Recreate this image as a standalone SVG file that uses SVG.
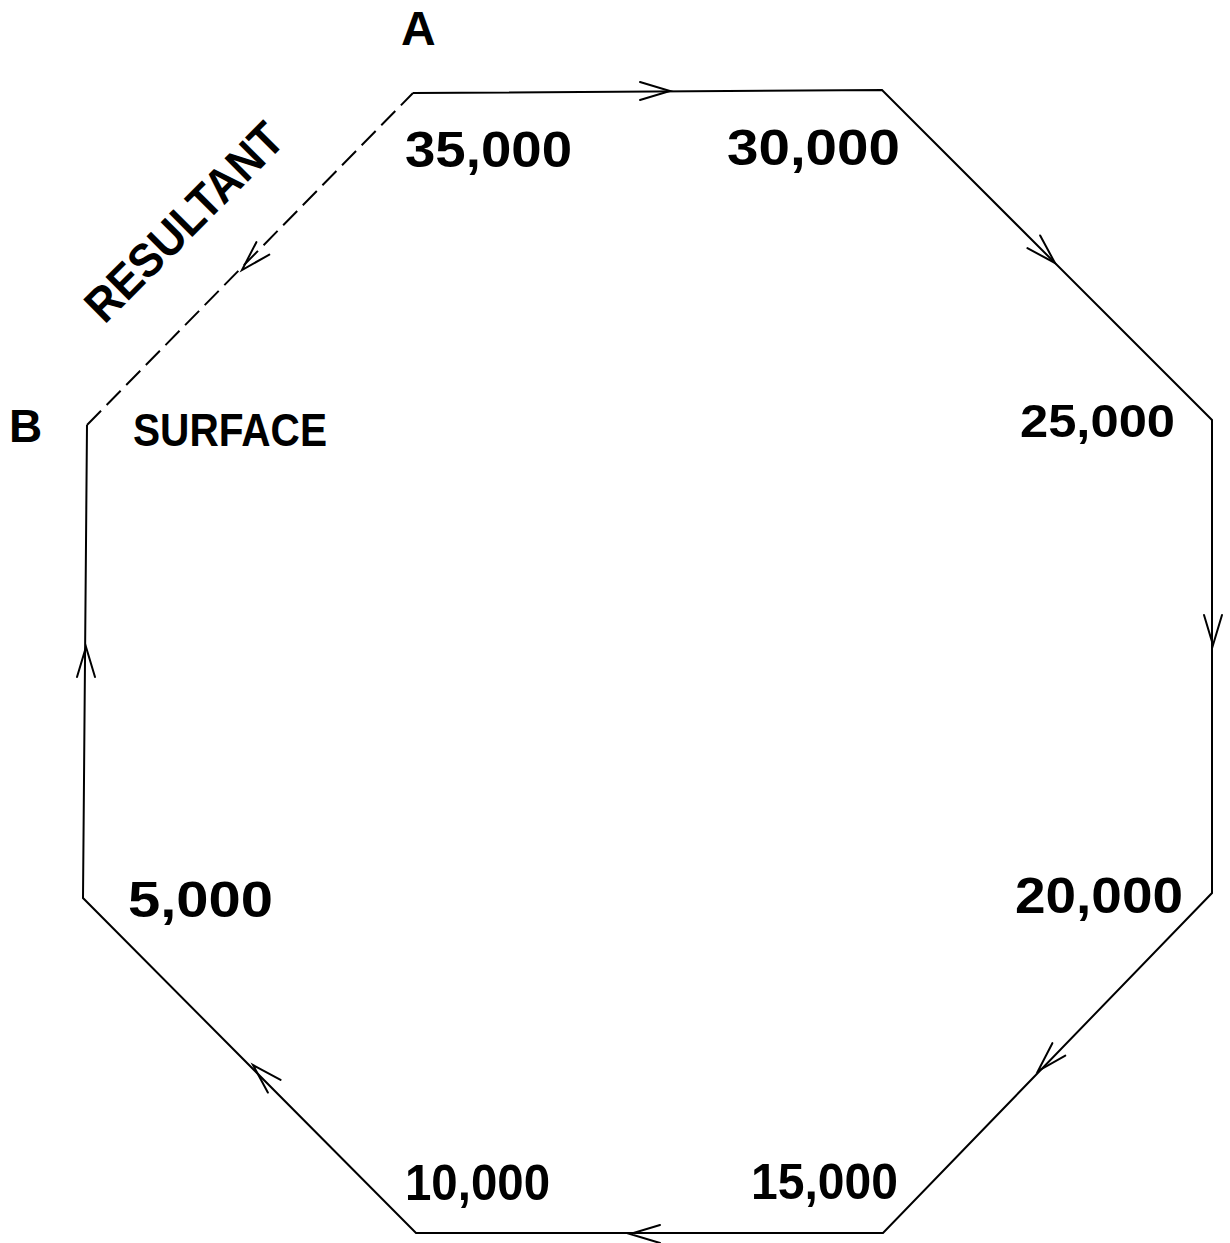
<svg xmlns="http://www.w3.org/2000/svg" width="1230" height="1243" viewBox="0 0 1230 1243">
<style>
.edge{fill:none;stroke:#000;stroke-width:2;stroke-linejoin:miter}
.dash{fill:none;stroke:#000;stroke-width:2;stroke-dasharray:20 8}
.arr{fill:none;stroke:#000;stroke-width:2;stroke-linecap:round;stroke-linejoin:miter}
.lbl{font-family:"Liberation Sans",Arial,sans-serif;font-weight:bold;fill:#000}
</style>
<defs>
<path id="ah" class="arr" d="M-30,-9 L0,0 L-30,9"/>
</defs>
<rect width="1230" height="1243" fill="#fff"/>
<g id="connectors">
<path class="edge" d="M413,93 L882,90 L1212,420 L1212,893 L883,1233 L416,1233 L83,898 L87,425"/>
<path class="dash" d="M87,425 L413,93"/>
<use href="#ah" transform="translate(670,91)"/>
<use href="#ah" transform="translate(1055,263) rotate(45)"/>
<use href="#ah" transform="translate(1213,645) rotate(90)"/>
<use href="#ah" transform="translate(1038,1071) rotate(134)"/>
<use href="#ah" transform="translate(630,1234) rotate(180)"/>
<use href="#ah" transform="translate(253,1065) rotate(225)"/>
<use href="#ah" transform="translate(86,647) rotate(270)"/>
<use href="#ah" transform="translate(242,270) rotate(134)"/>
</g>
<g id="label-A"><text class="lbl" x="401" y="45" font-size="48">A</text></g>
<g id="label-B"><text class="lbl" x="9" y="442" font-size="46">B</text></g>
<g id="label-resultant"><text class="lbl" x="184" y="222" font-size="48" text-anchor="middle" dominant-baseline="central" textLength="258" lengthAdjust="spacingAndGlyphs" transform="rotate(-45 184 222)">RESULTANT</text></g>
<g id="label-surface"><text class="lbl" x="133" y="446" font-size="46" textLength="194" lengthAdjust="spacingAndGlyphs">SURFACE</text></g>
<g id="label-35000"><text class="lbl" x="405" y="167" font-size="50" textLength="167" lengthAdjust="spacingAndGlyphs">35,000</text></g>
<g id="label-30000"><text class="lbl" x="727" y="165" font-size="50" textLength="173" lengthAdjust="spacingAndGlyphs">30,000</text></g>
<g id="label-25000"><text class="lbl" x="1020" y="437" font-size="46" textLength="155" lengthAdjust="spacingAndGlyphs">25,000</text></g>
<g id="label-20000"><text class="lbl" x="1015" y="913" font-size="50" textLength="168" lengthAdjust="spacingAndGlyphs">20,000</text></g>
<g id="label-15000"><text class="lbl" x="751" y="1199" font-size="50" textLength="147" lengthAdjust="spacingAndGlyphs">15,000</text></g>
<g id="label-10000"><text class="lbl" x="405" y="1200" font-size="50" textLength="145" lengthAdjust="spacingAndGlyphs">10,000</text></g>
<g id="label-5000"><text class="lbl" x="128" y="917" font-size="50" textLength="145" lengthAdjust="spacingAndGlyphs">5,000</text></g>
</svg>
